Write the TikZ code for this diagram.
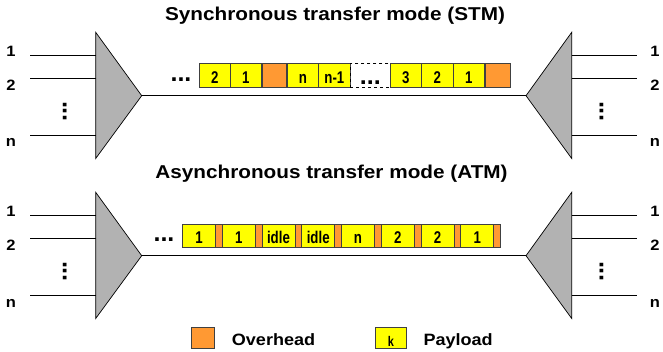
\documentclass[tikz,border=0pt]{standalone}
\usepackage{fontspec}
\setmainfont{Liberation Sans}
\usepackage{graphicx}
\definecolor{ovh}{RGB}{255,153,51}
\definecolor{pay}{RGB}{255,255,0}
\definecolor{muxgray}{RGB}{178,178,178}
\definecolor{bord}{RGB}{64,64,64}
\newcommand{\nrw}[1]{\scalebox{0.78}[1]{#1}}
\newcommand{\wdw}[1]{\scalebox{1.1}[1]{#1}}
\newcommand{\linksec}[2]{%
\begin{scope}[shift={(0,#2)}]
 \coordinate (#1lt) at (95.7,32.3);
 \coordinate (#1lb) at (95.7,158.5);
 \coordinate (#1ltip) at (141.7,95.7);
 \coordinate (#1rt) at (571.7,32.3);
 \coordinate (#1rb) at (571.7,158.5);
 \coordinate (#1rtip) at (526,95.7);
 \draw[muxtri] (#1lt) -- (#1ltip) -- (#1lb) -- cycle;
 \draw[muxtri] (#1rt) -- (#1rtip) -- (#1rb) -- cycle;
 \draw[wire] (#1ltip) -- (#1rtip);
 \foreach \k/\yy/\ly/\t in {a/56/56.7/1, b/79/90.5/2, c/135.7/147/n} {
   \coordinate (#1in\k) at (30,\yy);
   \coordinate (#1mi\k) at (95.7,\yy);
   \coordinate (#1mo\k) at (571.7,\yy);
   \coordinate (#1out\k) at (636.7,\yy);
   \draw[wire] (#1in\k) -- (#1mi\k);
   \draw[wire] (#1mo\k) -- (#1out\k);
   \node[port] (#1pl\k) at (11,\ly) {\wdw{\t}};
   \node[port] (#1pr\k) at (655,\ly) {\wdw{\t}};
 }
 \node[dotsnode,rotate=90] (#1vl) at (65,111.5) {...};
 \node[dotsnode,rotate=90] (#1vr) at (601.7,111.5) {...};
\end{scope}}
\begin{document}
\begin{tikzpicture}[x=1pt,y=-1pt,
  title/.style={font=\bfseries\fontsize{18.6}{20}\selectfont, inner sep=0pt, anchor=base},
  port/.style={font=\bfseries\fontsize{15}{15}\selectfont, inner sep=0pt, anchor=base},
  muxtri/.style={draw=black, line width=0.7pt, fill=muxgray, line join=miter},
  wire/.style={draw=black, line width=1pt},
  dotsnode/.style={font=\bfseries\fontsize{25}{25}\selectfont, inner sep=0pt, text height=3.4pt, text depth=0pt},
  cell/.style={rectangle, draw=bord, line width=0.8pt, inner sep=0pt, anchor=west,
     font=\bfseries\fontsize{17}{17}\selectfont},
  stmcell/.style={cell, minimum height=24pt, text height=16pt, text depth=0pt},
  atmcell/.style={cell, minimum height=23.3pt, text height=15.3pt, text depth=0pt},
  pay/.style={fill=pay},
  ovh/.style={fill=ovh},
  legtext/.style={font=\bfseries\fontsize{16.4}{17}\selectfont, inner sep=0pt, anchor=base west}
]
\useasboundingbox (0,0) rectangle (663,352);
\fill[white] (0,0) rectangle (663,352);

% titles
\node[title] (stmtitle) at (335,20.7) {\scalebox{1.115}[1]{Synchronous transfer mode (STM)}};
\node[title] (atmtitle) at (331.5,178.3) {\scalebox{1.115}[1]{Asynchronous transfer mode (ATM)}};

\linksec{S}{0}
\linksec{A}{160}

% STM cells
\node[dotsnode] (sdots) at (181,79.5) {...};
\node[stmcell,pay,minimum width=31pt] (s1) at (199,75.3) {\nrw{2}};
\node[stmcell,pay,minimum width=31pt] (s2) at (230,75.3) {\nrw{1}};
\node[stmcell,ovh,minimum width=24pt] (s3) at (262,75.3) {};
\node[stmcell,pay,minimum width=31pt] (s4) at (287,75.3) {\nrw{n}};
\node[stmcell,pay,minimum width=32pt] (s5) at (318,75.3) {\nrw{n-1}};
\node[stmcell,dashed,draw=black,minimum width=40pt,text height=18pt,font=\bfseries\fontsize{25}{25}\selectfont] (s6) at (350,75.3) {...};
\node[stmcell,pay,minimum width=31pt] (s7) at (390,75.3) {\nrw{3}};
\node[stmcell,pay,minimum width=32pt] (s8) at (421,75.3) {\nrw{2}};
\node[stmcell,pay,minimum width=31pt] (s9) at (453,75.3) {\nrw{1}};
\node[stmcell,ovh,minimum width=25pt] (s10) at (485,75.3) {};

% ATM cells
\node[dotsnode] (adots) at (164,240) {...};
\foreach \i/\t in {0/1,1/1,2/idle,3/idle,4/n,5/2,6/2,7/1} {
  \node[atmcell,pay,minimum width=33.1pt] (ap\i) at ({182+39.75*\i},235.7) {\nrw{\t}};
  \node[atmcell,ovh,minimum width=6.65pt] (ao\i) at ({215.1+39.75*\i},235.7) {};
}

% legend
\node[rectangle,draw=bord,line width=0.8pt,fill=ovh,minimum width=23.3pt,minimum height=21.6pt,inner sep=0pt,anchor=north west] (legov) at (191,326.7) {};
\node[legtext] (legovt) at (231.7,345.5) {\wdw{Overhead}};
\node[rectangle,draw=bord,line width=0.8pt,fill=pay,minimum width=31pt,minimum height=21pt,inner sep=0pt,anchor=north west,
      text height=18pt,text depth=0pt,font=\bfseries\fontsize{14}{14}\selectfont] (legpay) at (375,327) {\nrw{k}};
\node[legtext] (legpayt) at (423.3,345.5) {\wdw{Payload}};
\end{tikzpicture}
\end{document}
